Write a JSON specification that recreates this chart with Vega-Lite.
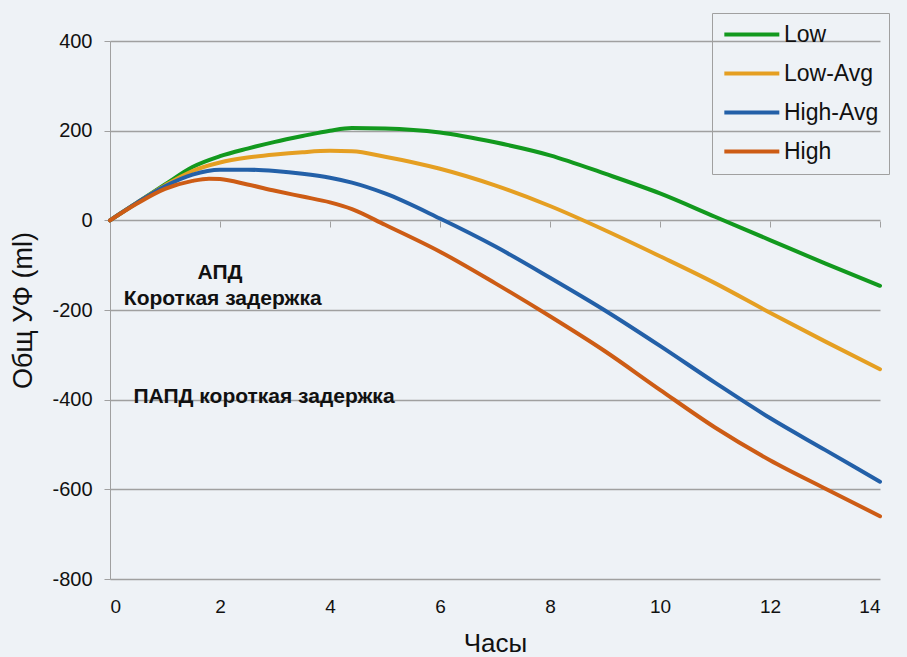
{
  "$schema": "https://vega.github.io/schema/vega-lite/v6.json",
  "width": 770,
  "height": 538,
  "autosize": "none",
  "padding": {"left": 110, "top": 41, "right": 27, "bottom": 78},
  "background": "#eef2f6",
  "config": {
    "view": {"stroke": null},
    "font": "Liberation Sans",
    "axis": {"labelFont": "Liberation Sans", "titleFont": "Liberation Sans", "labelColor": "#111", "titleColor": "#111", "titleFontWeight": "normal"}
  },
  "datasets": {
    "curves": [
      {"h": 0, "uf": 0, "s": "Low"}, {"h": 0.5, "uf": 40, "s": "Low"}, {"h": 1, "uf": 80, "s": "Low"}, {"h": 1.5, "uf": 119, "s": "Low"}, {"h": 2, "uf": 143, "s": "Low"}, {"h": 2.5, "uf": 160, "s": "Low"}, {"h": 3, "uf": 175, "s": "Low"}, {"h": 3.5, "uf": 188, "s": "Low"}, {"h": 4, "uf": 200, "s": "Low"}, {"h": 4.4, "uf": 206, "s": "Low"}, {"h": 5, "uf": 205, "s": "Low"}, {"h": 6, "uf": 196, "s": "Low"}, {"h": 7, "uf": 174, "s": "Low"}, {"h": 8, "uf": 145, "s": "Low"}, {"h": 9, "uf": 104, "s": "Low"}, {"h": 10, "uf": 60, "s": "Low"}, {"h": 11, "uf": 8, "s": "Low"}, {"h": 12, "uf": -44, "s": "Low"}, {"h": 13, "uf": -96, "s": "Low"}, {"h": 14, "uf": -146, "s": "Low"},
      {"h": 0, "uf": 0, "s": "Low-Avg"}, {"h": 0.5, "uf": 40, "s": "Low-Avg"}, {"h": 1, "uf": 78, "s": "Low-Avg"}, {"h": 1.5, "uf": 110, "s": "Low-Avg"}, {"h": 2, "uf": 129, "s": "Low-Avg"}, {"h": 2.5, "uf": 140, "s": "Low-Avg"}, {"h": 3, "uf": 147, "s": "Low-Avg"}, {"h": 3.5, "uf": 152, "s": "Low-Avg"}, {"h": 4, "uf": 155, "s": "Low-Avg"}, {"h": 4.4, "uf": 154, "s": "Low-Avg"}, {"h": 5, "uf": 142, "s": "Low-Avg"}, {"h": 6, "uf": 115, "s": "Low-Avg"}, {"h": 7, "uf": 78, "s": "Low-Avg"}, {"h": 8, "uf": 32, "s": "Low-Avg"}, {"h": 9, "uf": -22, "s": "Low-Avg"}, {"h": 10, "uf": -80, "s": "Low-Avg"}, {"h": 11, "uf": -140, "s": "Low-Avg"}, {"h": 12, "uf": -206, "s": "Low-Avg"}, {"h": 13, "uf": -270, "s": "Low-Avg"}, {"h": 14, "uf": -332, "s": "Low-Avg"},
      {"h": 0, "uf": 0, "s": "High-Avg"}, {"h": 0.5, "uf": 40, "s": "High-Avg"}, {"h": 1, "uf": 76, "s": "High-Avg"}, {"h": 1.5, "uf": 102, "s": "High-Avg"}, {"h": 2, "uf": 113, "s": "High-Avg"}, {"h": 2.5, "uf": 113, "s": "High-Avg"}, {"h": 3, "uf": 110, "s": "High-Avg"}, {"h": 3.5, "uf": 104, "s": "High-Avg"}, {"h": 4, "uf": 95, "s": "High-Avg"}, {"h": 4.4, "uf": 84, "s": "High-Avg"}, {"h": 5, "uf": 60, "s": "High-Avg"}, {"h": 6, "uf": 4, "s": "High-Avg"}, {"h": 7, "uf": -58, "s": "High-Avg"}, {"h": 8, "uf": -128, "s": "High-Avg"}, {"h": 9, "uf": -201, "s": "High-Avg"}, {"h": 10, "uf": -280, "s": "High-Avg"}, {"h": 11, "uf": -362, "s": "High-Avg"}, {"h": 12, "uf": -441, "s": "High-Avg"}, {"h": 13, "uf": -512, "s": "High-Avg"}, {"h": 14, "uf": -583, "s": "High-Avg"},
      {"h": 0, "uf": 0, "s": "High"}, {"h": 0.5, "uf": 38, "s": "High"}, {"h": 1, "uf": 70, "s": "High"}, {"h": 1.5, "uf": 88, "s": "High"}, {"h": 1.8, "uf": 93, "s": "High"}, {"h": 2, "uf": 92, "s": "High"}, {"h": 2.5, "uf": 80, "s": "High"}, {"h": 3, "uf": 66, "s": "High"}, {"h": 3.5, "uf": 53, "s": "High"}, {"h": 4, "uf": 40, "s": "High"}, {"h": 4.4, "uf": 25, "s": "High"}, {"h": 5, "uf": -10, "s": "High"}, {"h": 6, "uf": -70, "s": "High"}, {"h": 7, "uf": -140, "s": "High"}, {"h": 8, "uf": -214, "s": "High"}, {"h": 9, "uf": -292, "s": "High"}, {"h": 10, "uf": -378, "s": "High"}, {"h": 11, "uf": -462, "s": "High"}, {"h": 12, "uf": -535, "s": "High"}, {"h": 13, "uf": -598, "s": "High"}, {"h": 14, "uf": -660, "s": "High"}
    ],
    "notes": [
      {"h": 2.0, "uf": -117, "t": "АПД"},
      {"h": 2.05, "uf": -176, "t": "Короткая задержка"},
      {"h": 2.8, "uf": -393, "t": "ПАПД короткая задержка"}
    ]
  },
  "layer": [
    {
      "data": {"name": "curves"},
      "mark": {"type": "line", "interpolate": "monotone", "strokeWidth": 4, "strokeCap": "round"},
      "encoding": {
        "x": {
          "field": "h", "type": "quantitative",
          "scale": {"domain": [0, 14], "nice": false},
          "axis": {"values": [0, 2, 4, 6, 8, 10, 12, 14], "title": "Часы", "titleFontSize": 26, "labelFontSize": 19, "domain": false, "ticks": false, "grid": false, "labelPadding": 18, "titlePadding": 14}
        },
        "y": {
          "field": "uf", "type": "quantitative",
          "scale": {"domain": [-800, 400], "nice": false},
          "axis": {"values": [-800, -600, -400, -200, 0, 200, 400], "labelExpr": "'' + datum.value", "title": "Общ УФ (ml)", "titleFontSize": 27, "labelFontSize": 20, "domainColor": "#a0a0a0", "tickColor": "#a0a0a0", "tickSize": 6, "gridColor": "#a0a0a0", "gridWidth": 1.5, "labelPadding": 12, "titlePadding": 14}
        },
        "color": {
          "field": "s", "type": "nominal",
          "scale": {"domain": ["Low", "Low-Avg", "High-Avg", "High"], "range": ["#12991e", "#e59f22", "#2360a8", "#cd5c15"]},
          "legend": {"title": null, "orient": "none", "legendX": 602, "legendY": -28, "symbolType": "M-1,0H5", "symbolSize": 336, "symbolStrokeWidth": 4, "labelFontSize": 23, "labelFont": "Liberation Sans", "labelColor": "#111", "labelOffset": 39, "rowPadding": 15, "padding": 10, "strokeColor": "#a0a0a0", "symbolFillColor": null}
        }
      }
    },
    {
      "data": {"name": "notes"},
      "mark": {"type": "text", "fontWeight": "bold", "fontSize": 21, "font": "Liberation Sans", "color": "#111", "align": "center", "baseline": "middle"},
      "encoding": {
        "x": {
          "field": "h", "type": "quantitative",
          "axis": {"values": [0, 2, 4, 6, 8, 10, 12, 14], "orient": "bottom", "offset": -358, "labels": false, "domain": false, "grid": false, "ticks": true, "tickSize": 6, "tickColor": "#a0a0a0", "title": null}
        },
        "y": {"field": "uf", "type": "quantitative"},
        "text": {"field": "t"}
      }
    }
  ],
  "resolve": {"axis": {"x": "independent"}}
}
